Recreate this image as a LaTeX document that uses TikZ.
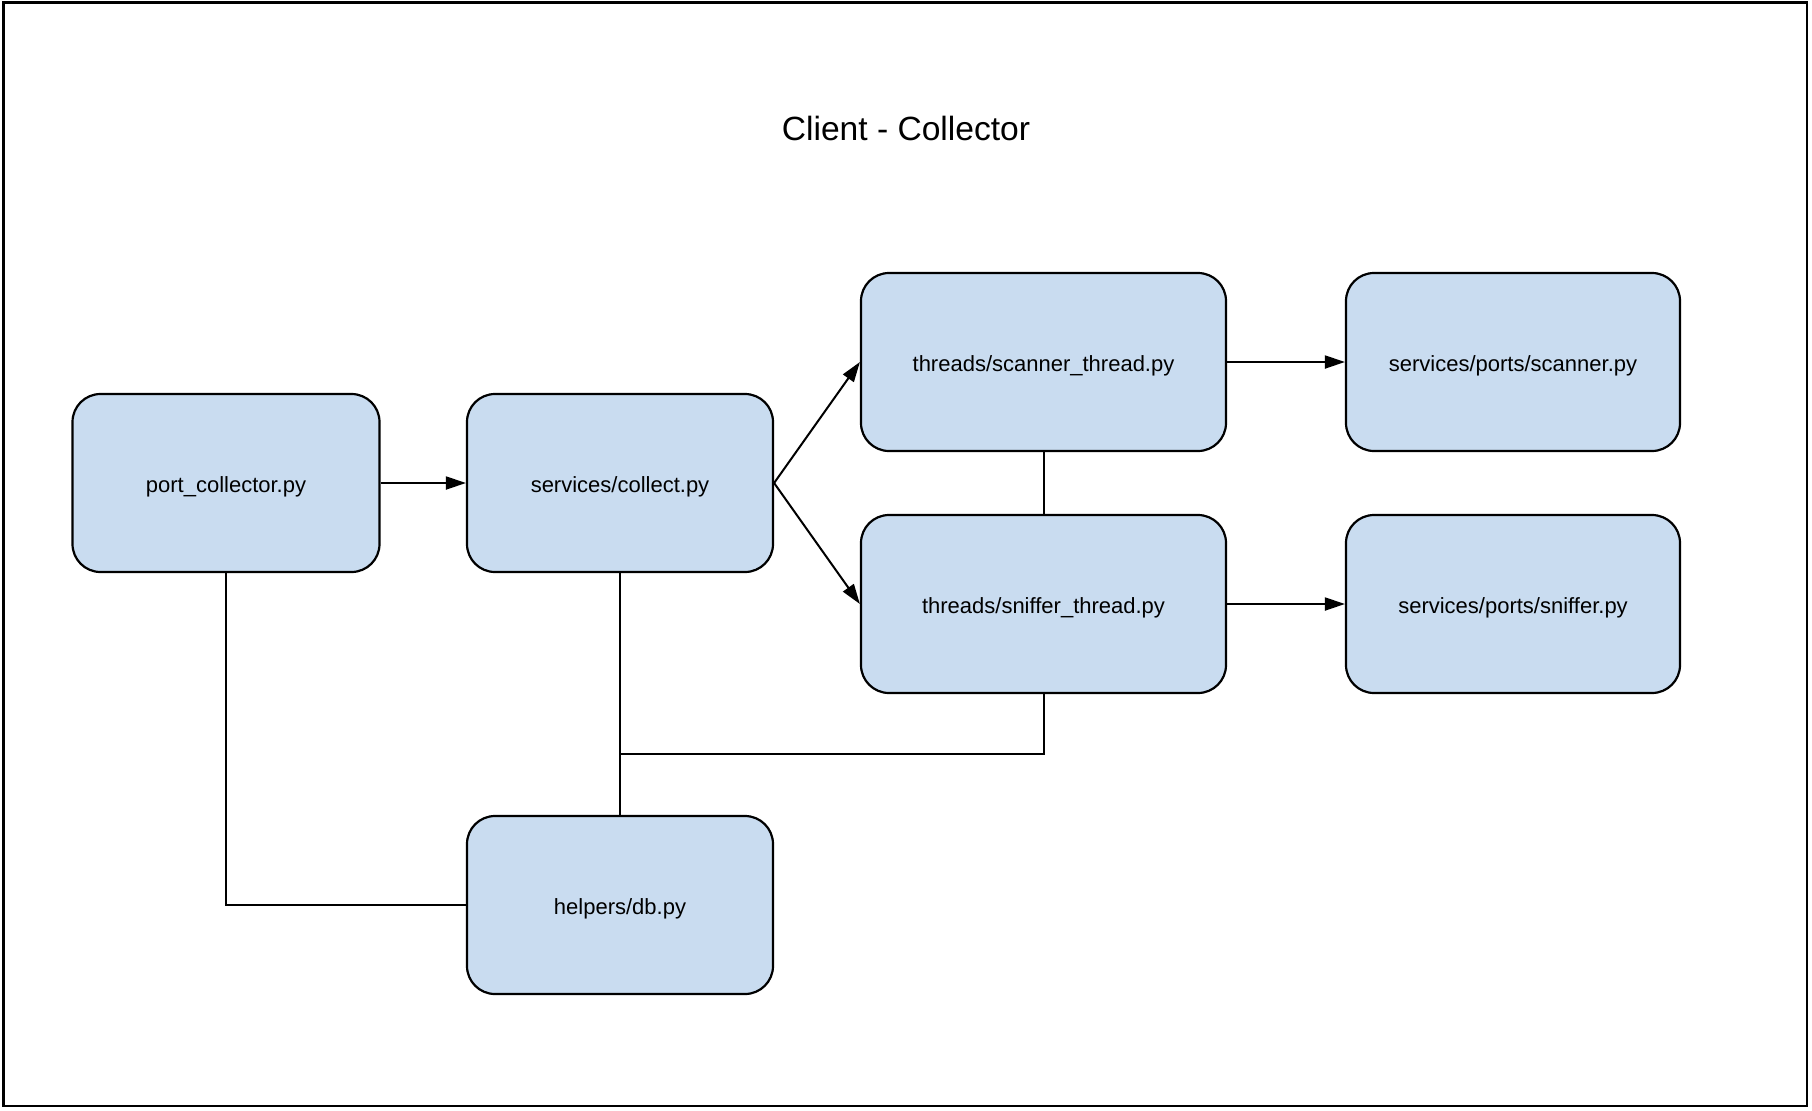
\documentclass[tikz,border=0pt]{standalone}
\usepackage{fontspec}
\setmainfont{Liberation Sans}
\usetikzlibrary{arrows.meta}
\definecolor{boxfill}{RGB}{201,220,240}
\begin{document}
\begin{tikzpicture}[x=0.5pt,y=-0.5pt,
  filebox/.style={draw=black, line width=1.1pt, fill=boxfill, rounded corners=14pt,
    minimum height=89pt, inner sep=0pt, text height=9.6pt, text depth=0pt,
    font=\fontsize{11}{13}\selectfont, text=black},
  conn/.style={draw=black, line width=1pt},
  arr/.style={conn, -{Triangle[length=10pt,width=6.5pt]}}]
\useasboundingbox (0,0) rectangle (1812,1110);
\draw[line width=1.2pt] (3.5,2.5) rectangle (1807,1106);
\node[font=\fontsize{16.8}{20}\selectfont] (title) at (906,128) {Client - Collector};
\node[filebox, minimum width=153.5pt] (pc) at (226,483) {port\_collector.py};
\node[filebox, minimum width=153pt] (col) at (620,483) {services/collect.py};
\node[filebox, minimum width=182.5pt] (sth) at (1043.5,362) {threads/scanner\_thread.py};
\node[filebox, minimum width=182.5pt] (snt) at (1043.5,604) {threads/sniffer\_thread.py};
\node[filebox, minimum width=167pt] (scp) at (1513,362) {services/ports/scanner.py};
\node[filebox, minimum width=167pt] (snp) at (1513,604) {services/ports/sniffer.py};
\node[filebox, minimum width=153pt] (db) at (620,905) {helpers/db.py};
\coordinate (J) at (620,754);
\draw[arr] (pc.east) -- (col.west);
\draw[arr] (col.east) -- (sth.west);
\draw[arr] (col.east) -- (snt.west);
\draw[arr] (sth.east) -- (scp.west);
\draw[arr] (snt.east) -- (snp.west);
\draw[conn] (sth.south) -- (snt.north);
\draw[conn] (col.south) -- (db.north);
\draw[conn] (snt.south) |- (J);
\draw[conn] (pc.south) |- (db.west);
\end{tikzpicture}
\end{document}
